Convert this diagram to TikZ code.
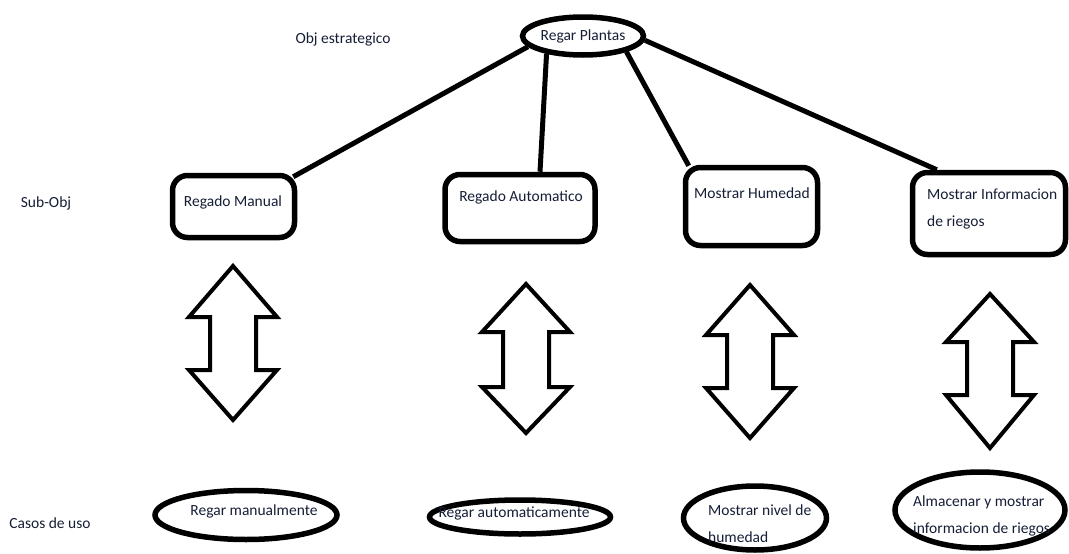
\documentclass[tikz,border=0pt]{standalone}
\usepackage{fontspec}
\setmainfont{Carlito}
\usetikzlibrary{shapes.geometric,calc}
\definecolor{ink}{RGB}{22,30,54}
\tikzset{
  txt/.style={inner sep=0pt, text=ink, font=\fontsize{15.5}{27}\selectfont},
  goalbox/.style={draw, line width=5.5pt, rounded corners=15pt, inner sep=0pt},
  oval/.style={draw, ellipse, line width=5.5pt, inner sep=0pt},
  link/.style={line width=5pt},
  updown/.style={line width=4pt, line join=miter},
}
% vertical double arrow: centre x, top tip, upper shoulder, lower shoulder, bottom tip
\newcommand\twowayarrow[5]{%
  \draw[updown] (#1,#2) -- ++(44,#3-#2) -- ++(-21,0) -- ++(0,#4-#3) -- ++(21,0)
    -- (#1,#5) -- ++(-44,#4-#5) -- ++(21,0) -- ++(0,#3-#4) -- ++(-21,0) -- cycle;}
\begin{document}
\begin{tikzpicture}[x=1pt,y=-1pt]
\useasboundingbox (0,0) rectangle (1069,554);

% row labels
\node[txt] (lobj) at (343,39) {Obj estrategico};
\node[txt] (lsub) at (46,203) {Sub-Obj};
\node[txt] (lcas) at (50,523) {Casos de uso};

% strategic goal
\node[oval, minimum width=121pt, minimum height=38pt, text=ink,
      font=\fontsize{15.5}{18}\selectfont] (goal) at (583,36) {Regar Plantas};

% sub-goals
\node[goalbox, minimum width=122pt, minimum height=62pt] (b1) at (233.5,206.5) {};
\node[goalbox, minimum width=150pt, minimum height=67pt] (b2) at (520,208) {};
\node[goalbox, minimum width=132pt, minimum height=78pt] (b3) at (751.5,206.5) {};
\node[goalbox, minimum width=153pt, minimum height=82pt] (b4) at (989,213.5) {};
\node[txt] (tb1) at (233,202) {Regado Manual};
\node[txt] (tb2) at (521,197) {Regado Automatico};
\node[txt] (tb3) at (752,193) {Mostrar Humedad};
\node[txt, anchor=west, align=left] (tb4) at (927,208.5) {Mostrar Informacion\\de riegos};

% goal decomposition
\draw[link] (goal.191) -- ($(b1.north east)+(-4,4)$);
\draw[link] (goal.206) -- ($(b2.north)+(20,0)$);
\draw[link] (goal.340) -- ($(b3.north west)+(6,1)$);
\draw[link] (goal.356) -- ($(b4.north west)+(27,0)$);

% two-way links between sub-goals and use cases
\twowayarrow{233}{266}{317}{370}{420}
\twowayarrow{526}{284}{332}{387}{433}
\twowayarrow{750}{285}{335}{388}{438}
\twowayarrow{990}{294}{342}{395}{448}

% use cases
\node[oval, minimum width=182pt, minimum height=49pt] (u1) at (246,515) {};
\node[oval, minimum width=181pt, minimum height=34pt] (u2) at (520,517) {};
\node[oval, minimum width=143pt, minimum height=64pt] (u3) at (755,518) {};
\node[oval, minimum width=170pt, minimum height=76pt] (u4) at (980,510) {};
\node[txt] (tu1) at (254,511) {Regar manualmente};
\node[txt] (tu2) at (514,513) {Regar automaticamente};
\node[txt, anchor=west, align=left] (tu3) at (708,524) {Mostrar nivel de\\humedad};
\node[txt, anchor=west, align=left] (tu4) at (913,516) {Almacenar y mostrar\\informacion de riegos};
\end{tikzpicture}
\end{document}
